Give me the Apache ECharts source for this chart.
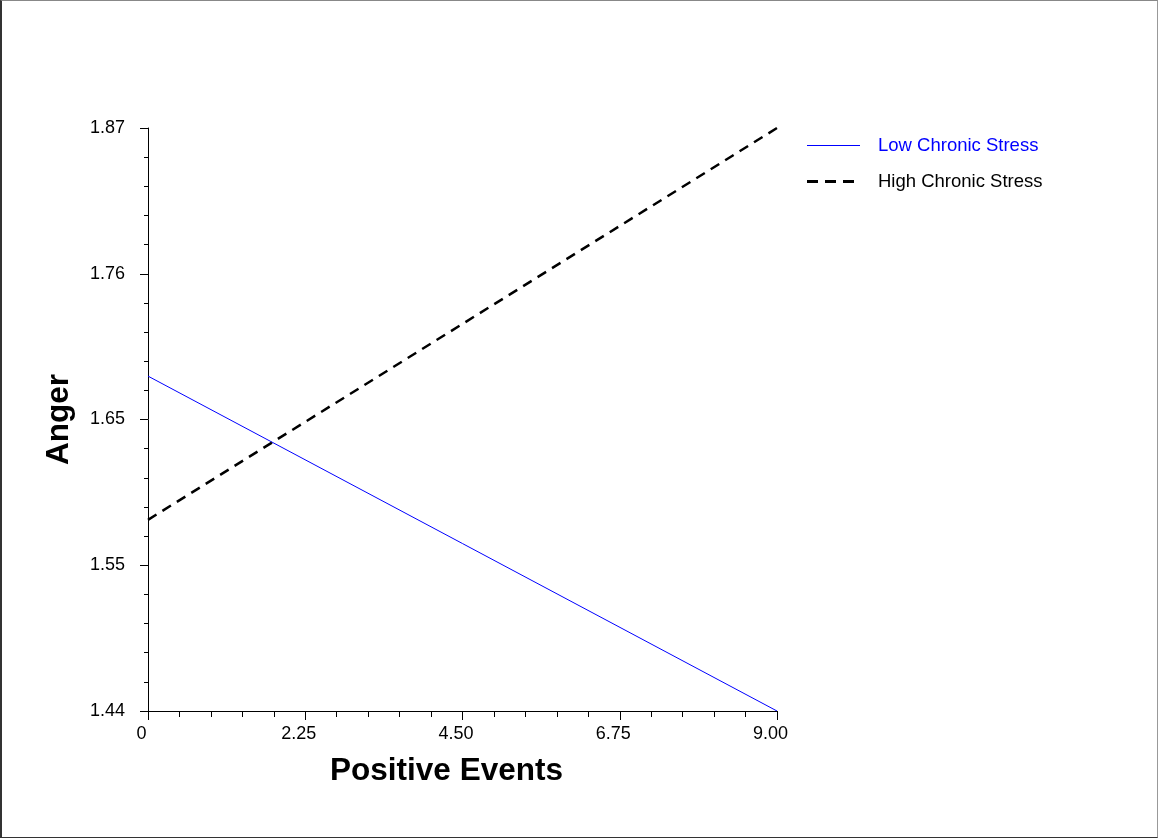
<!DOCTYPE html>
<html><head><meta charset="utf-8">
<script src="https://cdn.jsdelivr.net/npm/echarts@6/dist/echarts.min.js"></script>
<style>
html,body{margin:0;padding:0;background:#fff;}
#c{position:absolute;left:0;top:0;width:1158px;height:838px;}
#frame{position:absolute;left:0;top:0;width:1158px;height:838px;box-sizing:border-box;border-left:2px solid #333;border-top:1px solid #888;border-right:1px solid #999;border-bottom:1px solid #333;pointer-events:none;}
</style></head>
<body>
<div id="c"></div><div id="frame"></div>
<script>
var seriesNames = ['Low Chronic Stress', 'High Chronic Stress'];
var seriesColors = ['#0000ff', '#000000'];
var xValues = [0, 9];
var lowStress = [1.687, 1.44];
var highStress = [1.581, 1.87];
var xTicks = [0, 2.25, 4.5, 6.75, 9];
var xTickLabels = ['0', '2.25', '4.50', '6.75', '9.00'];
var yTicks = [1.44, 1.5475, 1.655, 1.7625, 1.87];
var yTickLabels = ['1.44', '1.55', '1.65', '1.76', '1.87'];

var yMinor = [];
for (var i = 0; i < yTicks.length - 1; i++) {
  for (var k = 1; k < 5; k++) yMinor.push(yTicks[i] + (yTicks[i + 1] - yTicks[i]) * k / 5);
}
function lookup(ticks, labels, v) {
  for (var i = 0; i < ticks.length; i++) if (Math.abs(ticks[i] - v) < 1e-6) return labels[i];
  return '';
}
var font = 'Liberation Sans, Arial, Helvetica, sans-serif';
var chart = echarts.init(document.getElementById('c'));
chart.setOption({
  animation: false,
  backgroundColor: '#fff',
  grid: {left: 148, right: 381, top: 128, bottom: 127, containLabel: false},
  graphic: [
    {type: 'line', shape: {x1: 807, y1: 145.5, x2: 860, y2: 145.5}, style: {stroke: seriesColors[0], lineWidth: 1}},
    {type: 'text', x: 878, y: 146, style: {text: seriesNames[0], fill: seriesColors[0], font: '18.5px ' + font, textVerticalAlign: 'middle', verticalAlign: 'middle'}},
    {type: 'line', shape: {x1: 807, y1: 181.5, x2: 854, y2: 181.5}, style: {stroke: seriesColors[1], lineWidth: 3, lineDash: [11, 7]}},
    {type: 'text', x: 878, y: 182, style: {text: seriesNames[1], fill: seriesColors[1], font: '18.5px ' + font, textVerticalAlign: 'middle', verticalAlign: 'middle'}}
  ],
  xAxis: {
    type: 'value', min: 0, max: 9, interval: 2.25,
    name: 'Positive Events', nameLocation: 'middle', nameGap: 44,
    nameTextStyle: {fontSize: 31.5, fontWeight: 'bold', color: '#000', fontFamily: font, padding: [0, 32, 0, 0]},
    axisLine: {show: true, lineStyle: {color: '#000', width: 1}},
    axisTick: {show: true, length: 9, lineStyle: {color: '#000'}},
    minorTick: {show: true, splitNumber: 5, length: 6, lineStyle: {color: '#000'}},
    splitLine: {show: false}, minorSplitLine: {show: false},
    axisLabel: {fontSize: 18, color: '#000', fontFamily: font, margin: 14, padding: [0, 13, 0, 0],
      formatter: function (v) { return lookup(xTicks, xTickLabels, v); }}
  },
  yAxis: [{
    type: 'value', min: 1.44, max: 1.87, position: 'left',
    name: 'Anger', nameLocation: 'middle', nameGap: 73,
    nameTextStyle: {fontSize: 31.5, fontWeight: 'bold', color: '#000', fontFamily: font},
    axisLine: {show: true, lineStyle: {color: '#000', width: 1}},
    axisTick: {show: true, length: 8, customValues: yTicks, lineStyle: {color: '#000'}},
    splitLine: {show: false},
    axisLabel: {fontSize: 18, color: '#000', fontFamily: font, margin: 23, customValues: yTicks, padding: [3, 0, 0, 0],
      formatter: function (v) { return lookup(yTicks, yTickLabels, v); }}
  }, {
    type: 'value', min: 1.44, max: 1.87, position: 'left',
    axisLine: {show: false},
    axisTick: {show: true, length: 4, customValues: yMinor, lineStyle: {color: '#000'}},
    axisLabel: {show: false},
    splitLine: {show: false}
  }],
  series: [{
    name: seriesNames[0], type: 'line', symbol: 'none', yAxisIndex: 0,
    data: xValues.map(function (x, i) { return [x, lowStress[i]]; }),
    lineStyle: {color: seriesColors[0], width: 1}, itemStyle: {color: seriesColors[0]}
  }, {
    name: seriesNames[1], type: 'line', symbol: 'none', yAxisIndex: 0,
    data: xValues.map(function (x, i) { return [x, highStress[i]]; }),
    lineStyle: {color: seriesColors[1], width: 2.5, type: [10, 7]}, itemStyle: {color: seriesColors[1]}
  }]
});
</script>
</body></html>
